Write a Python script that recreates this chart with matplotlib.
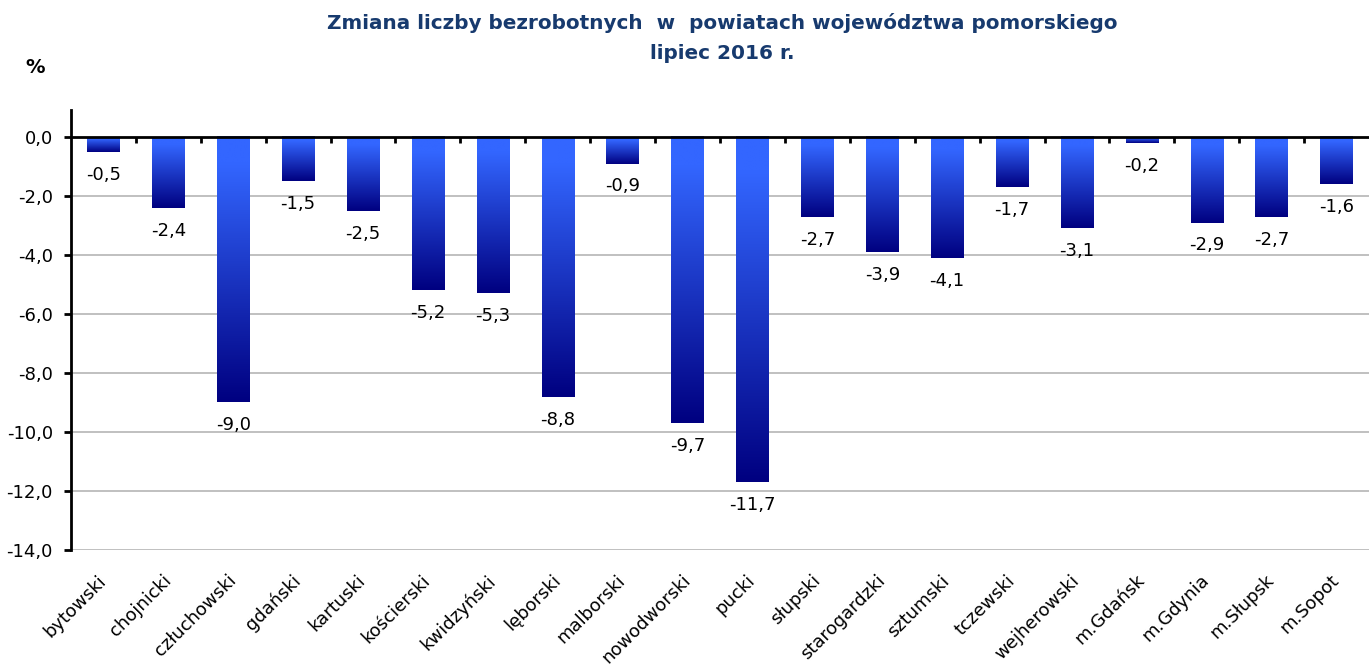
import numpy as np
import matplotlib
matplotlib.use("Agg")
import matplotlib.pyplot as plt
from matplotlib.colors import LinearSegmentedColormap

categories = ["bytowski", "chojnicki", "człuchowski", "gdański", "kartuski",
              "kościerski", "kwidzyński", "lęborski", "malborski", "nowodworski",
              "pucki", "słupski", "starogardzki", "sztumski", "tczewski",
              "wejherowski", "m.Gdańsk", "m.Gdynia", "m.Słupsk", "m.Sopot"]
values = [-0.5, -2.4, -9.0, -1.5, -2.5, -5.2, -5.3, -8.8, -0.9, -9.7,
          -11.7, -2.7, -3.9, -4.1, -1.7, -3.1, -0.2, -2.9, -2.7, -1.6]
yticks = [0, -2, -4, -6, -8, -10, -12, -14]

title = "Zmiana liczby bezrobotnych  w  powiatach województwa pomorskiego\nlipiec 2016 r."

plt.rcParams['font.family'] = ['DejaVu Sans']

fig = plt.figure(figsize=(13.7, 6.66), dpi=100)
ax = fig.add_axes([0.0518, 0.1742, 0.9475, 0.6606])

n = len(categories)
x = np.arange(n)
width = 0.5

cmap = LinearSegmentedColormap.from_list(
    "grad", [(0.0, "#3366FF"), (0.1, "#3366FF"), (1.0, "#000080")])
grad = np.linspace(0, 1, 256).reshape(-1, 1)

ax.set_xlim(-0.5, n - 0.5)
ax.set_ylim(-14, 0.915)

for xi, v in zip(x, values):
    ax.imshow(grad, cmap=cmap, aspect='auto', origin='upper',
              extent=(xi - width / 2, xi + width / 2, v, 0), zorder=3,
              interpolation='bilinear')
    lbl = ("%.1f" % v).replace(".", ",")
    ax.annotate(lbl, (xi, v), xytext=(0, -16.5), textcoords='offset points',
                ha='center', va='center', fontsize=13, color='black', zorder=4)

ax.set_xlim(-0.5, n - 0.5)
ax.set_ylim(-14, 0.915)

# grid
for yv in yticks[1:]:
    ax.axhline(yv, color='#C0C0C0', lw=1.4, zorder=1)
ax.axhline(0, color='black', lw=2, zorder=5)
# category boundary ticks on the zero line
ax.vlines(x[1:] - 0.5, -0.2, 0, color='black', lw=2, zorder=5)

ax.set_yticks(yticks)
ax.set_yticklabels([("%.1f" % t).replace(".", ",") for t in yticks], fontsize=13)
ax.tick_params(axis='y', length=5, width=2, pad=8)

ax.set_xticks(x)
ax.set_xticklabels(categories, rotation=45, ha='right', va='center',
                   rotation_mode='anchor', fontsize=13)
ax.tick_params(axis='x', length=0, pad=20)

for s in ['top', 'right', 'bottom']:
    ax.spines[s].set_visible(False)
ax.spines['left'].set_linewidth(2)
ax.spines['left'].set_zorder(6)

fig.text(0.527, 0.981, title, ha='center', va='top', fontsize=14.4,
         fontweight='bold', color='#173A6E', linespacing=1.75)
fig.text(0.026, 0.898, "%", ha='center', va='center', fontsize=14,
         fontweight='bold', color='black')

fig.savefig("out.png", dpi=100)
